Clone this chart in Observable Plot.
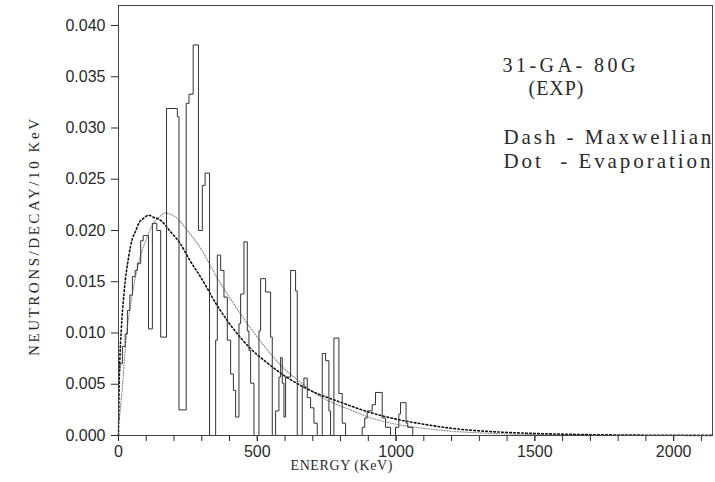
<!DOCTYPE html>
<html><head><meta charset="utf-8">
<script src="https://cdn.jsdelivr.net/npm/d3@7"></script>
<script src="https://cdn.jsdelivr.net/npm/@observablehq/plot@0.6"></script>
<style>html,body{margin:0;padding:0;background:#fff} svg{display:block}</style>
</head><body><div id="chart"></div>
<script>
// Measured histogram: left edge of each step (keV) and its value (neutrons/decay/10 keV)
const histEnergy = [0,5,14,24,32,41,50,60,68,80,89,108,122,138,152,173,212,218,244,254,269,288,302,312,328,
  350,356,368,380,392,404,414,422,434,440,452,464,470,476,488,506,512,530,548,554,566,578,584,590,596,602,
  620,638,644,662,668,680,692,704,716,734,746,758,764,776,794,806,818,878,887,896,914,926,950,962,980,998,
  1010,1016,1036,1042,1060,1100];
const histValue = [0.0063,0.0070,0.0087,0.0099,0.0122,0.0137,0.0155,0.0161,0.0168,0.0190,0.0195,0.0104,0.0207,
  0.0200,0.0096,0.0319,0.0311,0.0025,0.0324,0.0333,0.0381,0.0200,0.0244,0.0256,0,
  0.0093,0.0176,0.0161,0.0135,0.0093,0.0060,0.0044,0.0018,0.0109,0.0138,0.0189,0.0102,0.0083,0.0051,0,
  0.0102,0.0153,0.0140,0.0096,0,0.0024,0.0057,0.0076,0.0051,0.0018,0.0057,
  0.0161,0.0141,0,0.0047,0.0056,0.0037,0.0027,0.0012,0,0.0080,0.0073,0.0024,0,0.0095,0.0041,0.0012,0,
  0.0008,0.0017,0.0024,0.0030,0.0042,0.0017,0.0008,0,0.0008,0.0021,0.0032,0.0012,0.0008,0,0];

// Maxwellian fit (dashed curve)
const maxwEnergy = [0,2.5,5,10,20,37,50,61,75,91,108,125,151,187,223,259,295,355,414,475,535,594,655,715,774,835,900,1000,1100,1200,1300,1400,1500,1600,1700,1800,1900,2000,2140];
const maxwValue = [0,0.0050,0.0075,0.0103,0.0139,0.0175,0.0192,0.0199,0.0208,0.0212,0.0215,0.0213,0.0210,0.0199,0.0187,0.0170,0.0155,0.0127,0.0104,0.0085,0.0071,0.0059,0.0049,0.0041,0.0035,0.0029,0.0023,0.0016,0.0011,0.0007,0.00045,0.0003,0.0002,0.00013,0.00008,0.00005,0.00003,0.00002,0.00001];

// Evaporation fit (dotted curve)
const evapEnergy = [3,8,14,26,50,74,98,122,146,170,194,206,254,295,355,414,475,535,594,637,715,835,900,1000,1100,1200,1300,1400,1500,1600,1800,2000,2140];
const evapValue = [0.0015,0.0030,0.0047,0.0090,0.0138,0.0170,0.0190,0.0205,0.0213,0.0217,0.0215,0.0213,0.0198,0.0183,0.0154,0.0129,0.0105,0.0084,0.0066,0.0056,0.0040,0.0025,0.0018,0.0011,0.0007,0.00042,0.00026,0.00015,0.0001,0.00006,0.00002,0.00001,0];

const xTicks = [0,500,1000,1500,2000];
const xMinorTicks = [0,100,200,300,400,500,600,700,800,900,1000,1100,1200,1300,1400,1500,1600,1700,1800,1900,2000,2100];
const yTicks = [0,0.005,0.010,0.015,0.020,0.025,0.030,0.035,0.040];

const yTitle = "NEUTRONS/DECAY/10 KeV";
const xTitle = "ENERGY (KeV)";
const noteLines = ["31-GA- 80G", "(EXP)", "Dash - Maxwellian", "Dot\u00a0\u00a0- Evaporation"];

const hist = histEnergy.map((e, i) => ({e, v: histValue[i]}));
const maxw = maxwEnergy.map((e, i) => ({e, v: maxwValue[i]}));
const evap = evapEnergy.map((e, i) => ({e, v: evapValue[i]}));

const serif = "'Liberation Serif', 'DejaVu Serif', serif";
const ink = "#2a2a2a";

const plot = Plot.plot({
  width: 715, height: 482,
  marginLeft: 118, marginRight: 3, marginTop: 5, marginBottom: 47,
  style: {fontFamily: "'Liberation Sans', Arial, sans-serif", fontSize: "16px", color: ink, background: "#fff", overflow: "visible"},
  x: {domain: [0, 2140]},
  y: {domain: [0, 0.04195]},
  marks: [
    Plot.axisX({ticks: xMinorTicks, tickSize: 6, tickFormat: () => "", label: null, strokeWidth: 1}),
    Plot.axisX({ticks: xTicks, tickSize: 6, tickPadding: 4, tickFormat: d => String(d), label: null, fontSize: 16}),
    Plot.axisY({ticks: yTicks, tickSize: 7, tickPadding: 6, tickFormat: d3.format(".3f"), label: null, fontSize: 16}),
    Plot.line(evap, {x: "e", y: "v", curve: "monotone-x", stroke: "#888", strokeWidth: 1.1, strokeDasharray: "1,1.6"}),
    Plot.line(maxw, {x: "e", y: "v", curve: "monotone-x", stroke: "#111", strokeWidth: 1.6, strokeDasharray: "1.6,2.4"}),
    Plot.line(hist, {x: "e", y: "v", curve: "step-after", stroke: "#333", strokeWidth: 1}),
    Plot.frame({stroke: "#444", strokeWidth: 1}),
    Plot.text([yTitle], {frameAnchor: "left", rotate: -90, dx: -84, dy: 17, fontFamily: serif, fontSize: 15, fill: ink, textAnchor: "middle"}),
    Plot.text([xTitle], {frameAnchor: "bottom-left", dx: 223, dy: 34, fontFamily: serif, fontSize: 14, fill: ink, textAnchor: "middle"}),
    Plot.text([noteLines[0]], {frameAnchor: "top-left", dx: 384, dy: 66, lineAnchor: "bottom", textAnchor: "start", fontFamily: serif, fontSize: 20, fill: ink}),
    Plot.text([noteLines[1]], {frameAnchor: "top-left", dx: 410, dy: 89, lineAnchor: "bottom", textAnchor: "start", fontFamily: serif, fontSize: 20, fill: ink}),
    Plot.text([noteLines[2]], {frameAnchor: "top-left", dx: 385, dy: 138, lineAnchor: "bottom", textAnchor: "start", fontFamily: serif, fontSize: 21, fill: ink}),
    Plot.text([noteLines[3]], {frameAnchor: "top-left", dx: 385, dy: 162, lineAnchor: "bottom", textAnchor: "start", fontFamily: serif, fontSize: 21, fill: ink})
  ]
});
document.getElementById("chart").appendChild(plot);

// Stretch the Hershey-like lettering to the widths seen in the reference
const lengths = new Map([[yTitle, 237], [xTitle, 102], [noteLines[0], 133], [noteLines[1], 55], [noteLines[2], 208], [noteLines[3], 207]]);
d3.select(plot).selectAll("text").each(function() {
  const t = this.textContent;
  if (lengths.has(t)) {
    this.setAttribute("textLength", lengths.get(t));
    this.setAttribute("lengthAdjust", "spacing");
  }
});
</script></body></html>
